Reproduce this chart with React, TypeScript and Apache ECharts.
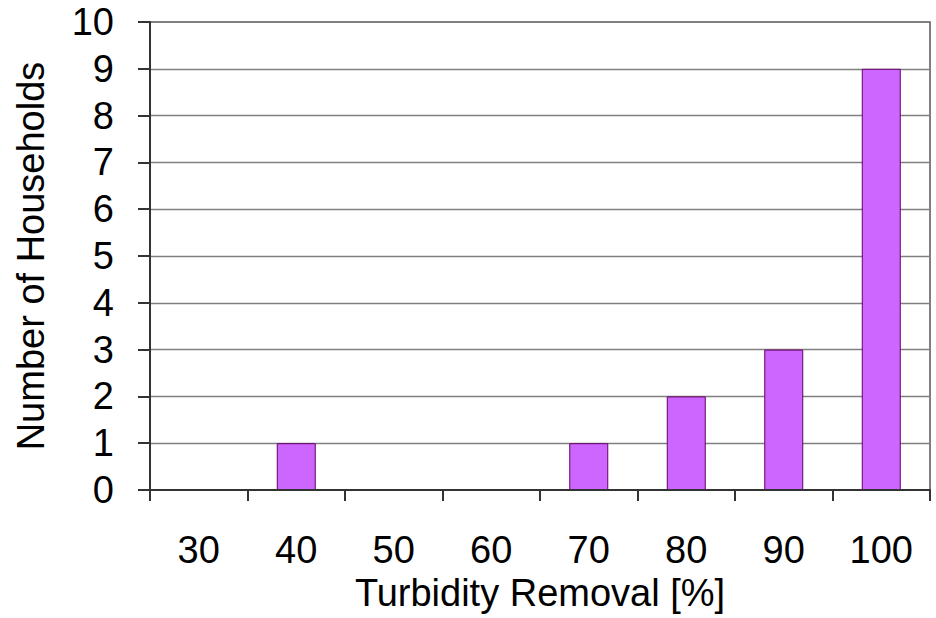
import React, { useEffect, useRef } from "react";
import * as echarts from "echarts";

const categories = ["30", "40", "50", "60", "70", "80", "90", "100"];
const households = [0, 1, 0, 0, 1, 2, 3, 9];
const xTitle = "Turbidity Removal [%]";
const yTitle = "Number of Households";

export default function App() {
  const ref = useRef<HTMLDivElement>(null);
  useEffect(() => {
    if (!ref.current) return;
    const chart = echarts.init(ref.current, null, { renderer: "svg" });
    const font = "'Liberation Sans', Arial, sans-serif";
    chart.setOption({
      animation: false,
      backgroundColor: "#ffffff",
      grid: {
        left: 150,
        right: 6,
        top: 22,
        bottom: 128,
        show: true,
        borderColor: "#555555",
        borderWidth: 1.5,
        backgroundColor: "transparent",
      },
      xAxis: {
        type: "category",
        data: categories,
        z: 3,
        name: xTitle,
        nameLocation: "middle",
        nameGap: 83,
        nameTextStyle: { fontFamily: font, fontSize: 38, color: "#000" },
        axisLine: { lineStyle: { color: "#333333", width: 2 } },
        axisTick: { show: true, length: 11, lineStyle: { color: "#333333", width: 2 } },
        axisLabel: { margin: 41, fontFamily: font, fontSize: 38, color: "#000" },
        splitLine: { show: false },
      },
      yAxis: {
        type: "value",
        min: 0,
        max: 10,
        interval: 1,
        name: yTitle,
        nameLocation: "middle",
        nameGap: 100,
        nameTextStyle: { fontFamily: font, fontSize: 38, color: "#000" },
        axisLine: { show: true, lineStyle: { color: "#333333", width: 2 } },
        axisTick: { show: true, length: 12, lineStyle: { color: "#333333", width: 2 } },
        axisLabel: { margin: 36, fontFamily: font, fontSize: 38, color: "#000" },
        splitLine: {
          show: true,
          showMinLine: false,
          showMaxLine: false,
          lineStyle: { color: "#808080", width: 1.3 },
        },
      },
      series: [
        {
          type: "bar",
          data: households,
          barWidth: "40%",
          itemStyle: { color: "#CC66FF", borderColor: "#660066", borderWidth: 1 },
        },
      ],
    });
    return () => chart.dispose();
  }, []);
  return (
    <div
      ref={ref}
      style={{ position: "fixed", left: 0, top: 0, width: 936, height: 618, background: "#fff" }}
    />
  );
}
